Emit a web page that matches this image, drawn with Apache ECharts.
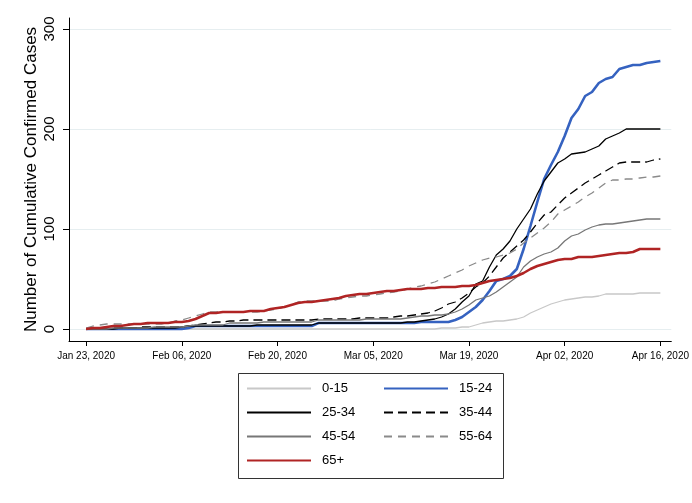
<!DOCTYPE html>
<html>
<head>
<meta charset="utf-8">
<script src="https://cdn.jsdelivr.net/npm/echarts@6/dist/echarts.min.js"></script>
<style>html,body{margin:0;padding:0;background:#fff;}#c{width:692px;height:503px;}</style>
</head>
<body>
<div id="c"></div>
<script>
// Days since Jan 23, 2020 (0..84)
const tickDays = [0, 14, 28, 42, 56, 70, 84];
const tickLabels = ['Jan 23, 2020', 'Feb 06, 2020', 'Feb 20, 2020', 'Mar 05, 2020', 'Mar 19, 2020', 'Apr 02, 2020', 'Apr 16, 2020'];
const yTicks = [0, 100, 200, 300];
const groups = ['0-15', '15-24', '25-34', '35-44', '45-54', '55-64', '65+'];

const age0_15 = [0,0,0,0,0,0,0,0,0,0, 0,0,0,0,0,0,0,0,0,0, 0,0,0,0,0,0,0,0,0,0, 0,0,0,0,0,0,0,0,0,0, 0,0,0,0,0,0,0,0,0,0,
  0,0,1,1,1,2,2,4,6,7, 8,8,9,10,12,16,19,22,25,27, 29,30,31,32,32,33,35,35,35,35, 35,36,36,36,36];
const age15_24 = [0,0,0,0,0,0,0,0,0,0, 0,0,0,0,0,1,3,3,3,3, 3,3,3,3,3,3,3,3,3,3, 3,3,3,3,6,6,6,6,6,6, 6,6,6,6,6,6,6,6,6,7,
  7,7,7,7,9,12,17,22,29,38, 48,50,53,60,80,103,127,150,164,177, 193,211,220,233,237,246,250,252,260,262, 264,264,266,267,268];
const age25_34 = [0,0,0,0,0,1,1,1,1,1, 1,1,1,1,2,3,3,3,3,3, 3,3,3,3,3,4,4,4,4,4, 4,4,4,4,6,6,6,6,6,6, 6,6,6,6,6,6,6,7,7,8,
  9,10,12,15,20,27,33,45,48,62, 74,80,88,100,110,120,135,148,157,166, 170,175,176,177,180,183,190,193,196,200, 200,200,200,200,200];
const age35_44 = [0,1,1,1,1,1,1,1,2,2, 2,2,2,2,2,3,4,5,6,7, 7,8,8,9,9,9,9,9,9,9, 9,9,9,9,10,10,10,10,10,10, 11,11,11,11,11,12,13,13,14,15,
  16,18,21,25,27,31,36,42,46,53, 62,71,77,83,89,97,106,114,117,124, 131,136,141,146,150,154,158,162,166,167, 167,167,167,169,170];
const age45_54 = [0,0,0,0,1,1,1,1,1,1, 2,2,2,2,2,3,4,4,4,4, 4,6,6,6,6,6,7,7,7,7, 7,7,7,7,9,9,9,9,9,9, 9,10,10,10,10,10,10,11,12,13,
  13,14,14,15,17,20,24,29,31,33, 37,42,47,52,62,68,72,75,77,81, 88,93,95,99,102,104,105,105,106,107, 108,109,110,110,110];
const age55_64 = [1,3,4,5,5,5,5,5,5,5, 5,5,6,8,9,11,13,15,17,17, 17,17,17,17,17,17,18,19,20,22, 24,27,28,28,28,28,28,30,31,32, 33,33,34,35,36,37,38,40,42,43,
  45,47,50,53,56,59,63,66,69,71, 72,74,76,80,86,91,96,101,107,115, 119,123,127,132,136,141,146,149,149,150, 150,151,152,152,153];
const age65p = [0,1,1,2,3,3,4,5,5,6, 6,6,6,7,7,8,10,13,16,16, 17,17,17,17,18,18,18,20,21,22, 24,26,27,27,28,29,30,31,33,34, 35,35,36,37,38,38,39,40,40,40,
  41,41,42,42,42,43,43,44,46,48, 49,50,51,53,56,60,63,65,67,69, 70,70,72,72,72,73,74,75,76,76, 77,80,80,80,80];

const seriesValues = [age0_15, age15_24, age25_34, age35_44, age45_54, age55_64, age65p];
const styles = [
  {color: '#c8c8c8', width: 1.3, type: 'solid'},
  {color: '#3562c0', width: 2.6, type: 'solid'},
  {color: '#000000', width: 1.3, type: 'solid'},
  {color: '#000000', width: 1.3, type: [9, 5]},
  {color: '#777777', width: 1.3, type: 'solid'},
  {color: '#8a8a8a', width: 1.3, type: [8, 6]},
  {color: '#b02424', width: 2.6, type: 'solid'}
];

const series = groups.map((g, i) => ({
  name: g,
  type: 'line',
  symbol: 'none',
  showSymbol: false,
  data: seriesValues[i].map((v, d) => [d, v]),
  lineStyle: styles[i],
  itemStyle: {color: styles[i].color},
  emphasis: {disabled: true}
}));

const chart = echarts.init(document.getElementById('c'), null, {renderer: 'canvas'});
const legendCommon = {
  orient: 'vertical', top: 382, itemWidth: 64, itemHeight: 14, itemGap: 11, padding: 0,
  itemStyle: {opacity: 0},
  textStyle: {fontSize: 13, color: '#000', padding: [0, 0, 0, 6]},
  selectedMode: false
};
chart.setOption({
  animation: false,
  backgroundColor: '#ffffff',
  textStyle: {fontFamily: 'Liberation Sans, Arial, sans-serif'},
  grid: {left: 69, right: 19, top: 18, bottom: 162, containLabel: false},
  xAxis: {
    type: 'value', min: -2.5, max: 85.6,
    axisLine: {show: true, onZero: false, lineStyle: {color: '#000', width: 1}},
    axisTick: {show: true, customValues: tickDays, length: 5, lineStyle: {color: '#000'}},
    axisLabel: {customValues: tickDays, fontSize: 10, color: '#000', margin: 10,
      formatter: v => tickLabels[tickDays.indexOf(v)] || ''},
    splitLine: {show: false}
  },
  yAxis: {
    type: 'value', min: -12, max: 311,
    name: 'Number of Cumulative Confirmed Cases', nameLocation: 'middle', nameGap: 29,
    nameMoveOverlap: false,
    nameTextStyle: {fontSize: 17, color: '#000'},
    axisLine: {show: true, onZero: false, lineStyle: {color: '#000', width: 1}},
    axisTick: {show: true, customValues: yTicks, length: 6, lineStyle: {color: '#000'}},
    axisLabel: {customValues: yTicks, rotate: 90, fontSize: 15, color: '#000', margin: 12},
    splitLine: {show: true, lineStyle: {color: '#e6eef0', width: 1}}
  },
  legend: [
    Object.assign({left: 246, data: ['0-15', '25-34', '45-54', '65+']}, legendCommon),
    Object.assign({left: 383, data: ['15-24', '35-44', '55-64']}, legendCommon)
  ],
  graphic: [{
    type: 'rect', shape: {x: 238.5, y: 373.5, width: 265, height: 105},
    style: {fill: 'none', stroke: '#333', lineWidth: 1}, silent: true
  }],
  series: series
});
</script>
</body>
</html>
